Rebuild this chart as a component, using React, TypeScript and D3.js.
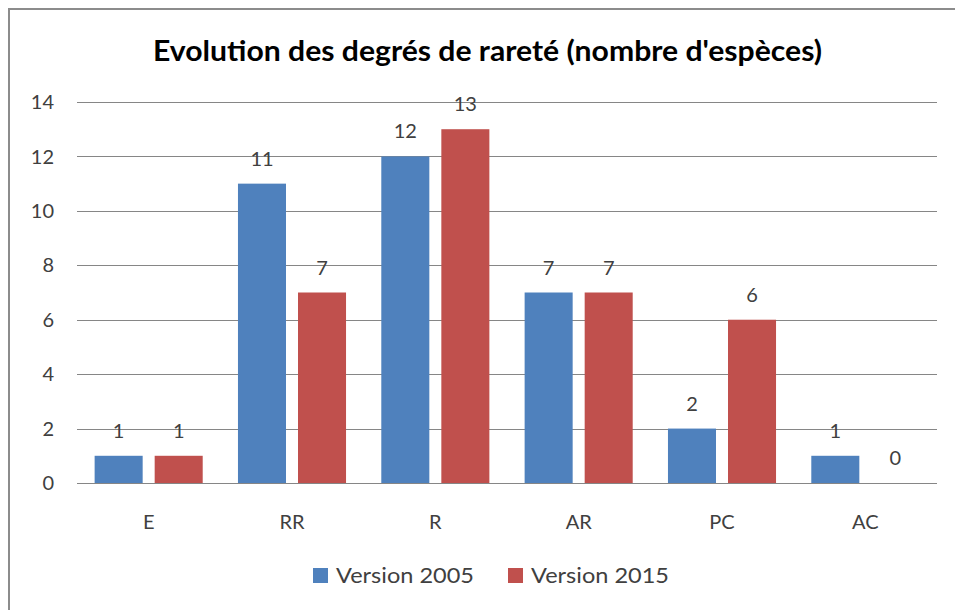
import React from "react";
import * as d3 from "d3";

const categories = ["E", "RR", "R", "AR", "PC", "AC"];
const seriesNames = ["Version 2005", "Version 2015"];
const values2005 = [1, 11, 12, 7, 2, 1];
const values2015 = [1, 7, 13, 7, 6, 0];
const yTicks = [0, 2, 4, 6, 8, 10, 12, 14];
const colors = ["#4F81BD", "#C0504D"];
const title = "Evolution des degrés de rareté (nombre d'espèces)";

const W = 955;
const H = 610;
const plot = { left: 77, right: 937, top: 102, bottom: 483 };
const FONT = "Lato, 'Open Sans', 'Liberation Sans', sans-serif";

export default function App() {
  const x = d3
    .scaleBand<string>()
    .domain(categories)
    .range([plot.left, plot.right])
    .paddingInner(0.246)
    .paddingOuter(0.123);
  const inner = d3
    .scaleBand<string>()
    .domain(seriesNames)
    .range([0, x.bandwidth()])
    .paddingInner(0.2)
    .paddingOuter(0);
  const y = d3.scaleLinear().domain([0, 14]).range([plot.bottom, plot.top]);
  const series = [values2005, values2015];

  return (
    <div>
      <style>{"body{margin:0}"}</style>
      <svg width={W} height={H} style={{ display: "block" }} fontFamily={FONT}>
        <rect x={0} y={0} width={W} height={H} fill="#fff" />
        <path d={`M9,${H} V9 H${W}`} fill="none" stroke="#8c8c8c" strokeWidth={2} />
        <text
          x={153}
          y={61}
          fontSize={28}
          fontWeight="bold"
          fill="#000"
          textLength={669}
          lengthAdjust="spacingAndGlyphs"
        >
          {title}
        </text>
        {yTicks.map((t) => (
          <g key={t}>
            <line
              x1={plot.left}
              x2={plot.right}
              y1={Math.round(y(t)) + 0.5}
              y2={Math.round(y(t)) + 0.5}
              stroke="#868686"
              strokeWidth={1}
            />
            <text
              x={54}
              y={y(t)}
              dy="0.36em"
              textAnchor="end"
              fontSize={20}
              fill="#404040"
            >
              {t}
            </text>
          </g>
        ))}
        {categories.map((c, i) => (
          <g key={c}>
            {series.map((vals, s) => {
              const bx = (x(c) as number) + (inner(seriesNames[s]) as number);
              const bw = inner.bandwidth();
              const top = y(vals[i]);
              return (
                <g key={s}>
                  {vals[i] > 0 && (
                    <rect
                      x={bx}
                      y={top}
                      width={bw}
                      height={y(0) - top}
                      fill={colors[s]}
                    />
                  )}
                  <text
                    x={bx + bw / 2}
                    y={top - 18}
                    textAnchor="middle"
                    fontSize={20}
                    fill="#404040"
                  >
                    {vals[i]}
                  </text>
                </g>
              );
            })}
            <text
              x={(x(c) as number) + x.bandwidth() / 2}
              y={529}
              textAnchor="middle"
              fontSize={20}
              fill="#404040"
            >
              {c}
            </text>
          </g>
        ))}
        {seriesNames.map((n, s) => {
          const lx = [313, 508][s];
          return (
            <g key={n}>
              <rect x={lx} y={568} width={15} height={15} fill={colors[s]} />
              <text
                x={lx + 23}
                y={583}
                fontSize={21}
                fill="#404040"
                textLength={138}
                lengthAdjust="spacingAndGlyphs"
              >
                {n}
              </text>
            </g>
          );
        })}
      </svg>
    </div>
  );
}
